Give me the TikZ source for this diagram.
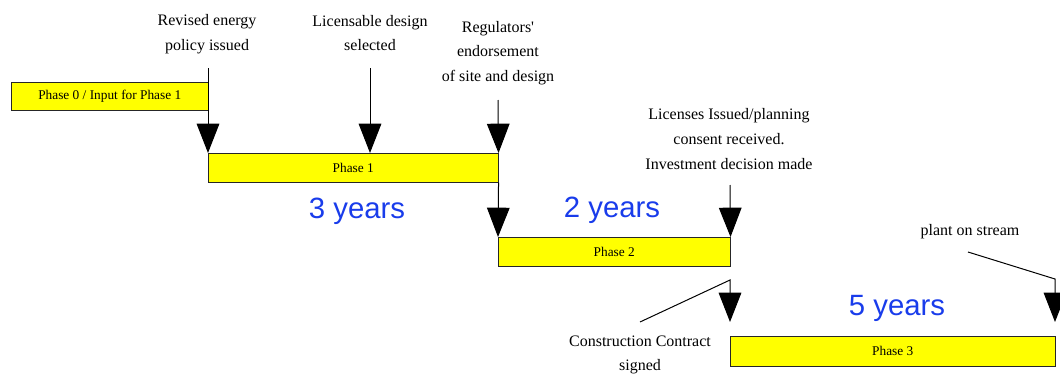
\documentclass[tikz,border=0pt]{standalone}
\usepackage{fontspec}
\setmainfont{Liberation Serif}
\setsansfont{Liberation Sans}
\usetikzlibrary{arrows.meta}
\definecolor{phaseyellow}{RGB}{255,255,0}
\definecolor{yearblue}{RGB}{25,60,235}

\begin{document}
\begin{tikzpicture}[x=0.75pt,y=-0.75pt,
                      phase/.style={draw=black!85,fill=phaseyellow,anchor=north west,inner sep=0pt,minimum height=21.75pt,font=\fontsize{10}{12}\selectfont},
                      event/.style={align=center,font=\fontsize{12}{18.5}\selectfont},
                      years/.style={text=yearblue,font=\sffamily\fontsize{22}{26}\selectfont},
                      milestone/.style={-{Triangle[width=17pt,length=22pt]},line width=0.75pt}]
                      \useasboundingbox (0,0) rectangle (1060,375);
                      \node[phase,minimum width=147.75pt,minimum height=21pt](p0)at(11,82){Phase 0 / Input for Phase 1};
                      \node[phase,minimum width=217.5pt](p1)at(208,153){Phase 1};
                      \node[phase,minimum width=174pt](p2)at(498,237){Phase 2};
                      \node[phase,minimum width=243.75pt,minimum height=22.5pt](p3)at(730,336){Phase 3};
                      \node[event](rev)at(207,34){Revised energy\\policy issued};
                      \node[event](lic)at(370,33){Licensable design\\selected};
                      \node[event](reg)at(498,53){Regulators\textquotesingle\\endorsement\\of site and design};
                      \node[event](inv)at(729,139){Licenses Issued/planning\\consent received.\\Investment decision made};
                      \node[event](plant)at(970,232){plant on stream};
                      \node[event](cc)at(640,355){Construction Contract\\signed};
                      \node[years](y1)at(357,211){3 years};
                      \node[years](y2)at(612,210){2 years};
                      \node[years](y3)at(897,308){5 years};
                      \coordinate (a1) at (208,68);
                      \coordinate (a2) at (370,68);
                      \coordinate (a3) at (498,100);
                      \coordinate (a5) at (730,185);
                      \coordinate (c1) at (640,322);
                      \coordinate (c2) at (730,280);
                      \coordinate (c3) at (730,322);
                      \coordinate (s1) at (968,252);
                      \coordinate (s2) at (1055,279);
                      \coordinate (s3) at (1055,322);
                      \draw[milestone] (a1)--(p1.north west);
                      \draw[milestone] (a2)--(a2|-p1.north);
                      \draw[milestone] (a3)--(p1.north east);
                      \draw[milestone] (p1.south east)--(p2.north west);
                      \draw[milestone] (a5)--(p2.north east);
                      \draw[milestone] (c1)--(c2)--(c3);
                      \draw[milestone] (s1)--(s2)--(s3);
                  \end{tikzpicture}
\end{document}
